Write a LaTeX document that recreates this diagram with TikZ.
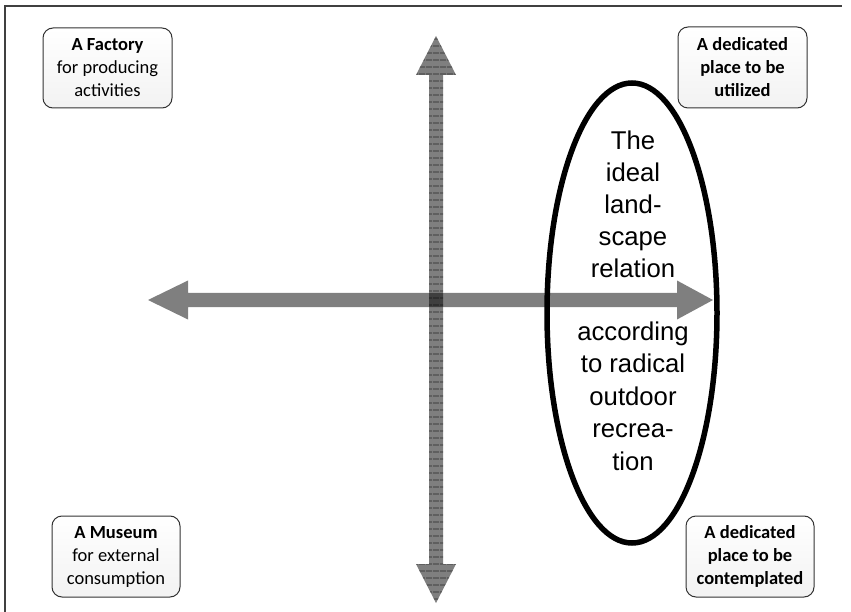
\documentclass[tikz,border=0pt]{standalone}
\usepackage{fontspec}
\newfontfamily\boxfont{Carlito}
\newfontfamily\ellfont{Liberation Sans}
\usetikzlibrary{patterns.meta}
\begin{document}
\begin{tikzpicture}[x=1pt,y=-1pt,
  quadbox/.style={draw=black!80, line width=1pt, rounded corners=10pt,
    top color=white, bottom color=black!5, align=center, inner sep=0pt,
    font=\boxfont\fontsize{18.5}{23}\selectfont},
  axisfill/.style={fill=black, fill opacity=0.5, draw=none},
  elltext/.style={anchor=base, inner sep=0pt, font=\ellfont\fontsize{25.7}{32}\selectfont}
]
\useasboundingbox (0,0) rectangle (851,612);
% frame (left and top only)
\draw[black!75, line width=1.4pt] (5,612) -- (5,6) -- (842,6);

% vertical axis arrow
\path[axisfill] (436,36) -- (456,75) -- (443,75) -- (443,564) -- (456,564) -- (436,603)
  -- (416,564) -- (429,564) -- (429,75) -- (416,75) -- cycle;
\path[pattern={Lines[angle=0,distance=6.5pt,line width=1pt]}, pattern color=black!85]
  (436,36) -- (456,75) -- (443,75) -- (443,564) -- (456,564) -- (436,603)
  -- (416,564) -- (429,564) -- (429,75) -- (416,75) -- cycle;
% horizontal axis arrow
\path[axisfill] (148,300) -- (188,280.5) -- (188,293) -- (677,293) -- (677,280.5) -- (713,300)
  -- (677,319.5) -- (677,307) -- (188,307) -- (188,319.5) -- cycle;

% ellipse
\draw[line width=5.5pt] (632,313) ellipse [x radius=85, y radius=230];
\coordinate (ell) at (632,313);

% ellipse texts
\foreach \t/\y [count=\i] in {The/150, ideal/182, land-/214, scape/246, relation/278,
  according/340, to radical/372.5, outdoor/405, recrea-/437.5, tion/470}
  \node[elltext] (et\i) at (633,\y) {\t};

% corner boxes
\node[quadbox, minimum width=129pt, minimum height=80pt] (factory) at (107.5,68)
  {\textbf{A Factory}\\for producing\\activities};
\node[quadbox, minimum width=129pt, minimum height=81pt] (utilized) at (742.5,67.5)
  {\textbf{A dedicated}\\\textbf{place to be}\\\textbf{utilized}};
\node[quadbox, minimum width=128pt, minimum height=81pt] (museum) at (116,556.5)
  {\textbf{A Museum}\\for external\\consumption};
\node[quadbox, minimum width=128pt, minimum height=81pt] (contemplated) at (750,556.5)
  {\textbf{A dedicated}\\\textbf{place to be}\\\textbf{contemplated}};
\end{tikzpicture}
\end{document}
